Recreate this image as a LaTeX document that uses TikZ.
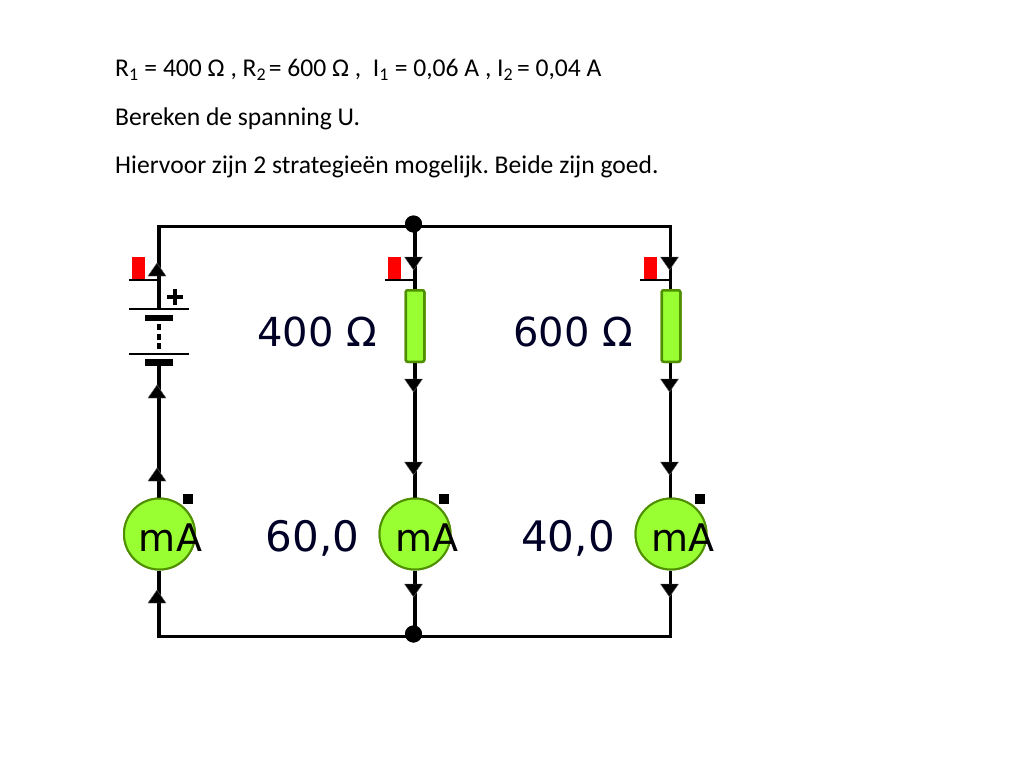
\documentclass[tikz,border=0pt]{standalone}
\usepackage{fontspec}
\setmainfont{Carlito}
\newfontfamily\metafont{DejaVu Sans}
\definecolor{compfill}{HTML}{99FF33}
\definecolor{compedge}{HTML}{4F8F00}
\newcommand{\headtext}{\fontsize{25.6}{28}\selectfont\frenchspacing}
\tikzset{
  x=1pt,y=-1pt,
  wire/.style={draw=black,line width=3.4pt},
  textline/.style={anchor=base west,inner sep=0pt,font=\headtext},
  screenlabel/.style={anchor=base,inner sep=0pt,font=\metafont\fontsize{40}{42}\selectfont,text=black!85!blue},
  screennum/.style={screenlabel,font=\metafont\fontsize{42}{44}\selectfont},
  unitlabel/.style={anchor=base,inner sep=0pt,font=\metafont\fontsize{38}{40}\selectfont,text=black},
  junction/.style={circle,fill=black,minimum size=17pt,inner sep=0pt},
  resistor/.style={rectangle,rounded corners=2pt,draw=compedge,line width=2.5pt,fill=compfill,minimum width=18.5pt,minimum height=71.5pt,inner sep=0pt},
  meter/.style={circle,draw=compedge,line width=2pt,fill=compfill,minimum size=71pt,inner sep=0pt},
  meterdot/.style={fill=black,minimum size=10pt,inner sep=0pt},
  redflag/.style={fill=red,minimum width=13pt,minimum height=22pt,inner sep=0pt},
  thinplate/.style={draw=black,line width=2.8pt},
  thickplate/.style={fill=black},
  head/.style={fill=black,draw=black!60,line width=.4pt}
}
\newcommand{\uphead}[2]{\path[head] (#1-9,#2+6.5) -- (#1,#2-6.5) -- (#1+9,#2+6.5) -- cycle;}
\newcommand{\downhead}[2]{\path[head] (#1-9,#2-6.5) -- (#1+9,#2-6.5) -- (#1,#2+6.5) -- cycle;}
\begin{document}
\begin{tikzpicture}
\useasboundingbox[fill=white] (0,0) rectangle (1024,768);
% heading
\node[textline] (line1) at (115,77) {R\textsubscript{1} = 400 Ω , R\textsubscript{2}\hspace{-3pt} = 600 Ω ,\ \ I\textsubscript{1} = 0,06 A , I\textsubscript{2}\hspace{-2pt} = 0,04 A};
\node[textline] (line2) at (115,125) {Bereken de spanning U.};
\node[textline] (line3) at (115,173) {Hiervoor zijn 2 strategieën mogelijk. Beide zijn goed.};
% named points
\coordinate (tl) at (159,226.5);
\coordinate (tr) at (670.5,226.5);
\coordinate (bl) at (159,636.5);
\coordinate (br) at (670.5,636.5);
\coordinate (bp1) at (159,309);
\coordinate (bp2) at (159,366);
\node[junction] (jt) at (413.5,224) {};
\node[junction] (jb) at (413.5,634) {};
\node[resistor] (r1) at (415,326) {};
\node[resistor] (r2) at (671,326) {};
\node[meter] (m0) at (159.5,534) {};
\node[meter] (m1) at (415,534) {};
\node[meter] (m2) at (671,534) {};
% wires
\draw[wire] (bp1) -- (tl) -- (tr) -- (r2.north -| tr);
\draw[wire] (bp2) -- (m0.north -| bp2);
\draw[wire] (m0.south -| bl) -- (bl) -- (br) -- (m2.south -| br);
\draw[wire] (jt.center -| r1) -- (r1.north);
\draw[wire] (r1.south) -- (m1.north);
\draw[wire] (m1.south) -- (jb.center -| m1);
\draw[wire] (r2.south -| tr) -- (m2.north -| tr);
% redraw components over wires
\node[resistor] at (r1) {};
\node[resistor] at (r2) {};
\node[meter] at (m0) {};
\node[meter] at (m1) {};
\node[meter] at (m2) {};
\node[junction] at (jt) {};
\node[junction] at (jb) {};
% battery
\draw[thinplate] (129,309) -- (189,309);
\draw[thinplate] (129,354) -- (189,354);
\path[thickplate] (145,315) rectangle (173,321);
\path[thickplate] (145,359) rectangle (173,366);
\draw[draw=black,line width=3.6pt,dash pattern=on 6pt off 3.5pt] (159,324) -- (159,350);
\draw[draw=black,line width=3.2pt] (167,297) -- (183,297);
\draw[draw=black,line width=3.2pt] (175,289) -- (175,305);
% switches
\node[redflag] (f0) at (138.5,268) {};
\node[redflag] (f1) at (394.5,268) {};
\node[redflag] (f2) at (650,268) {};
\draw[draw=black,line width=2.8pt] (129,280) -- (159,280);
\draw[draw=black,line width=2.8pt] (385,280) -- (415,280);
\draw[draw=black,line width=2.8pt] (640,280) -- (670,280);
% arrowheads
\uphead{157}{269.5}\uphead{157}{391.5}\uphead{157}{474.5}\uphead{157}{596.5}
\downhead{413.5}{263.5}\downhead{413.5}{385.5}\downhead{413.5}{468.5}\downhead{413.5}{590.5}
\downhead{669.5}{263.5}\downhead{669.5}{385.5}\downhead{669.5}{468.5}\downhead{669.5}{590.5}
% meter marks
\node[meterdot] (d0) at (188,498.5) {};
\node[meterdot] (d1) at (444,498.5) {};
\node[meterdot] (d2) at (700,498.5) {};
% screen labels
\node[screenlabel] (v1) at (317,346) {400 Ω};
\node[screenlabel] (v2) at (573,346) {600 Ω};
\node[screennum] (a1) at (312.5,551) {60,0};
\node[screennum] (a2) at (568,551) {40,0};
\node[unitlabel] (u0) at (170.5,551) {mA};
\node[unitlabel] (u1) at (427,551) {mA};
\node[unitlabel] (u2) at (682.5,551) {mA};
\end{tikzpicture}
\end{document}
